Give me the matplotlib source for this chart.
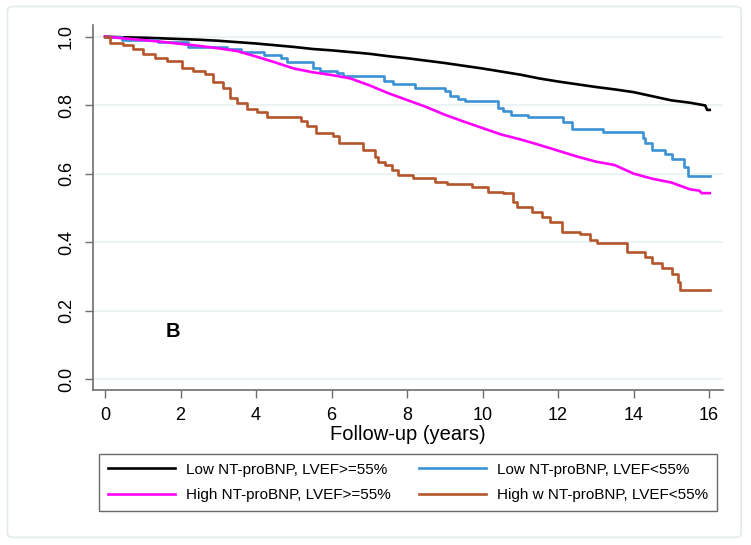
# ----- I M P O R T S ----- ----- ----- ----- ----- ----- ----- ----- -----
import numpy as np
import matplotlib
matplotlib.use("Agg")
import matplotlib.pyplot as plt
from matplotlib.patches import FancyBboxPatch

# ----- D A T A ----- ----- ----- ----- ----- ----- ----- ----- ----- -----
# times (years) and survival

low_pres_t = [0, 0.5, 1, 1.5, 2, 2.5, 3, 3.5, 4, 4.5, 5, 5.5, 6, 6.5, 7, 7.5, 8,
              8.5, 9, 9.5, 10, 10.5, 11, 11.5, 12, 12.5, 13, 13.5, 14, 14.5, 15,
              15.5, 15.9, 15.95, 16.02]
low_pres_s = [1.0, 0.998, 0.997, 0.995, 0.993, 0.991, 0.988, 0.984, 0.980, 0.975,
              0.970, 0.964, 0.960, 0.955, 0.950, 0.943, 0.937, 0.930, 0.923, 0.915,
              0.907, 0.898, 0.889, 0.878, 0.869, 0.861, 0.853, 0.846, 0.838, 0.826,
              0.814, 0.807, 0.799, 0.786, 0.786]

low_red_t = [0, 0.45, 1.4, 2.2, 3.22, 3.6, 4.2, 4.65, 4.83, 5.5, 5.7, 6.14, 6.3,
             7.4, 7.64, 8.2, 9.0, 9.14, 9.36, 9.54, 10.42, 10.55, 10.75, 11.2,
             12.14, 12.36, 13.18, 14.25, 14.3, 14.48, 14.83, 15.01, 15.35, 15.45, 16.02]
low_red_s = [1.0, 0.99, 0.985, 0.971, 0.963, 0.956, 0.946, 0.939, 0.926, 0.908,
             0.900, 0.894, 0.884, 0.871, 0.861, 0.851, 0.842, 0.826, 0.819, 0.813,
             0.793, 0.783, 0.772, 0.764, 0.751, 0.731, 0.722, 0.705, 0.690, 0.669,
             0.656, 0.644, 0.618, 0.593, 0.593]

high_pres_t = [0, 0.5, 1, 1.5, 2, 2.5, 3, 3.5, 4, 4.5, 5, 5.5, 6, 6.5, 7, 7.5, 8,
               8.5, 9, 9.5, 10, 10.5, 11, 11.5, 12, 12.5, 13, 13.5, 14, 14.5, 15,
               15.5, 15.75, 15.8, 16.02]
high_pres_s = [1.0, 0.995, 0.990, 0.985, 0.979, 0.973, 0.966, 0.958, 0.942, 0.925,
               0.907, 0.896, 0.888, 0.878, 0.858, 0.835, 0.815, 0.795, 0.772, 0.752,
               0.733, 0.714, 0.700, 0.684, 0.667, 0.650, 0.635, 0.625, 0.600, 0.585,
               0.574, 0.554, 0.550, 0.543, 0.543]

high_red_t = [0, 0.13, 0.48, 0.74, 1.0, 1.32, 1.64, 2.04, 2.33, 2.65, 2.86, 3.13,
              3.31, 3.5, 3.76, 4.03, 4.29, 5.2, 5.35, 5.6, 6.04, 6.2, 6.84, 7.15,
              7.24, 7.42, 7.59, 7.77, 8.17, 8.74, 9.05, 9.71, 10.15, 10.55, 10.82,
              10.91, 11.3, 11.57, 11.79, 12.1, 12.58, 12.85, 13.02, 13.82, 14.3,
              14.48, 14.75, 15.01, 15.19, 15.23, 16.03]
high_red_s = [1.0, 0.982, 0.975, 0.965, 0.950, 0.937, 0.928, 0.908, 0.900, 0.890,
              0.868, 0.850, 0.820, 0.805, 0.790, 0.780, 0.765, 0.753, 0.740, 0.720,
              0.710, 0.690, 0.669, 0.649, 0.634, 0.625, 0.610, 0.596, 0.586, 0.576,
              0.571, 0.561, 0.547, 0.542, 0.518, 0.503, 0.489, 0.474, 0.459, 0.430,
              0.425, 0.406, 0.396, 0.372, 0.357, 0.338, 0.323, 0.308, 0.284, 0.260,
              0.260]

labels = ["Low NT-proBNP, LVEF>=55%", "High NT-proBNP, LVEF>=55%",
          "Low NT-proBNP, LVEF<55%", "High w NT-proBNP, LVEF<55%"]
x_ticks = [0, 2, 4, 6, 8, 10, 12, 14, 16]
y_ticks = [0.0, 0.2, 0.4, 0.6, 0.8, 1.0]

# ----- S E T T I N G S ----- ----- ----- ----- ----- ----- ----- ----- -----
plt.rcParams["font.family"] = ["Liberation Sans", "DejaVu Sans"]
_black, _blue, _magenta, _brown = "#000000", "#3a92d4", "#ff00ff", "#b5552b"
_axis, _grid = "#6e6e6e", "#e9f1f3"

# ----- P L O T ----- ----- ----- ----- ----- ----- ----- ----- ----- -----
fig = plt.figure(figsize=(7.51, 5.45), dpi=100)
fig.patches.append(FancyBboxPatch((0.010, 0.014), 0.977, 0.974,
                                  boxstyle="round,pad=0,rounding_size=0.008",
                                  transform=fig.transFigure, fc="white",
                                  ec="#e3eaec", lw=1.2, zorder=-5))

ax = fig.add_axes([0.1238, 0.2844, 0.8389, 0.6697])
ax.set_facecolor("none")

# large groups have so many events the curve looks continuous
l1, = ax.plot(low_pres_t, low_pres_s, color=_black, lw=1.9)
l3, = ax.plot(low_red_t, low_red_s, drawstyle="steps-post", color=_blue, lw=1.9)
l2, = ax.plot(high_pres_t, high_pres_s, color=_magenta, lw=1.9)
l4, = ax.plot(high_red_t, high_red_s, drawstyle="steps-post", color=_brown, lw=1.9)

ax.set_xlim(-0.32, 16.37)
ax.set_ylim(-0.032, 1.034)
ax.set_xticks(x_ticks)
ax.set_yticks(y_ticks)
ax.set_yticklabels([f"{v:.1f}" for v in y_ticks], rotation=90, va="center")
ax.tick_params(axis="both", direction="out", length=6, width=1, color=_axis,
               labelsize=13)
ax.tick_params(axis="x", pad=6)
ax.tick_params(axis="y", pad=7)
ax.grid(axis="y", color=_grid, lw=1.2)
ax.set_axisbelow(True)

for side in ["top", "right"]:
    ax.spines[side].set_visible(False)
for side in ["left", "bottom"]:
    ax.spines[side].set_color(_axis)
    ax.spines[side].set_linewidth(1.2)

ax.set_xlabel("Follow-up (years)", fontsize=14.5, labelpad=1)
ax.text(1.8, 0.14, "B", fontsize=14.5, fontweight="bold", ha="center", va="center")

leg = fig.legend([l1, l2, l3, l4], labels, ncol=2, mode="expand",
                 bbox_to_anchor=(0.1318, 0.0606, 0.8229, 0.108), loc="center",
                 fontsize=11, frameon=True, fancybox=False, handlelength=4.4,
                 handletextpad=0.7, borderaxespad=0, borderpad=0.6,
                 labelspacing=0.75, columnspacing=2.0)
leg.get_frame().set_edgecolor("#444444")
leg.get_frame().set_linewidth(1.0)

fig.savefig("out.png", dpi=100)
